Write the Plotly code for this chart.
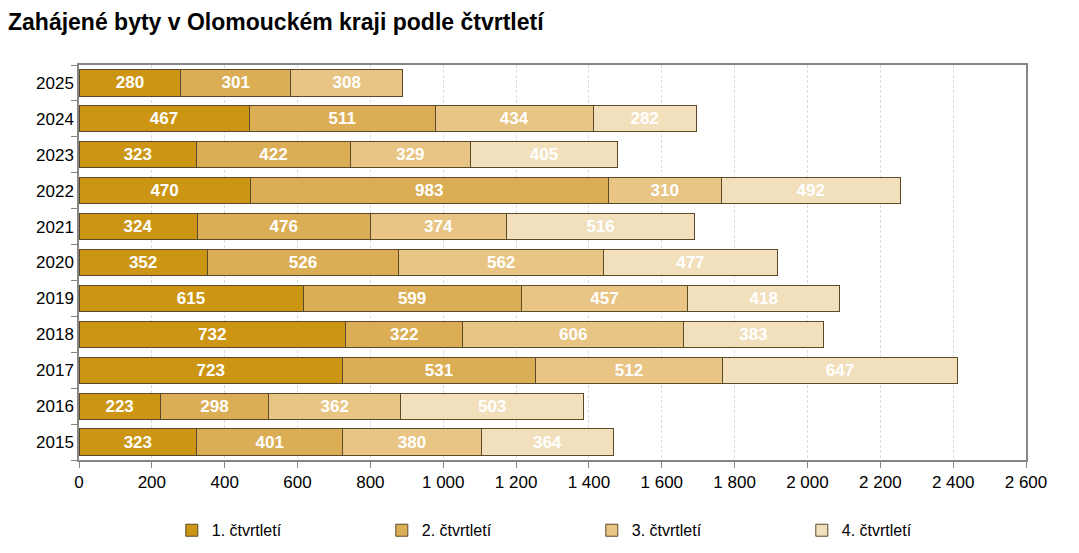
import plotly.graph_objects as go

years = ["2015", "2016", "2017", "2018", "2019", "2020", "2021", "2022", "2023", "2024", "2025"]
q1 = [323, 223, 723, 732, 615, 352, 324, 470, 323, 467, 280]
q2 = [401, 298, 531, 322, 599, 526, 476, 983, 422, 511, 301]
q3 = [380, 362, 512, 606, 457, 562, 374, 310, 329, 434, 308]
q4 = [364, 503, 647, 383, 418, 477, 516, 492, 405, 282, None]
series_names = ["1. čtvrtletí", "2. čtvrtletí", "3. čtvrtletí", "4. čtvrtletí"]
colors = ["#CC9614", "#DBAE55", "#E8C584", "#F2DFBC"]
tick_vals = list(range(0, 2601, 200))

font_family = "Liberation Sans, Arial, sans-serif"

fig = go.Figure()
for name, vals, col in zip(series_names, [q1, q2, q3, q4], colors):
    fig.add_trace(go.Bar(
        y=years, x=vals, name=name, orientation="h",
        marker=dict(color=col, line=dict(color="#5a4a2a", width=1)),
        texttemplate="%{x}", textposition="inside", insidetextanchor="middle",
        textangle=0,
        textfont=dict(color="white", size=17, family=font_family, weight="bold"),
    ))

fig.update_layout(
    barmode="stack",
    bargap=0.27,
    width=1079, height=553,
    margin=dict(l=71, r=61, t=57, b=101, autoexpand=False),
    paper_bgcolor="white", plot_bgcolor="white",
    separators=", ",
    font=dict(family=font_family, size=17, color="black"),
    title=dict(text="<b>Zahájené byty v Olomouckém kraji podle čtvrtletí</b>",
               xref="container", x=0.0, xanchor="left",
               yref="container", y=0.975, yanchor="middle",
               font=dict(size=23, color="black", family=font_family)),
    legend=dict(orientation="h", x=0.098, xanchor="left", y=-0.135, yanchor="top",
                entrywidth=165, entrywidthmode="pixels",
                font=dict(size=16, family=font_family), traceorder="normal"),
    showlegend=True,
)
fig.update_xaxes(
    range=[0, 2600], tickvals=tick_vals, tickformat=",d",
    showgrid=True, gridcolor="#dcdcdc", griddash="3px,2px", gridwidth=1,
    showline=True, linecolor="#868686", linewidth=1.5, mirror=True,
    ticks="outside", ticklen=6, tickcolor="#868686", zeroline=False,
    automargin=False, tickfont=dict(size=17),
)
fig.update_yaxes(
    type="category", categoryorder="array", categoryarray=years,
    showline=True, linecolor="#868686", linewidth=1.5, mirror=True,
    ticks="outside", ticklen=6, tickcolor="#868686", tickson="boundaries",
    showgrid=False, automargin=False, tickfont=dict(size=17),
)

fig.write_html("out.html")
